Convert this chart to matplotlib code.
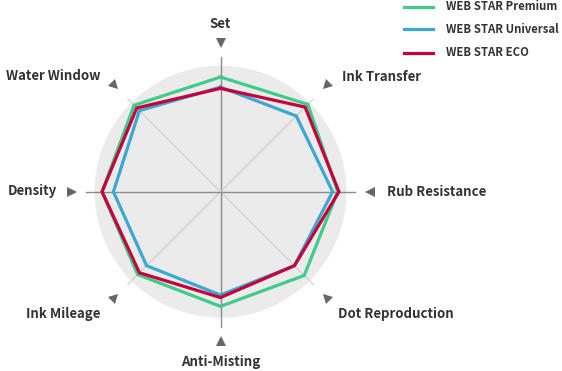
import numpy as np
import matplotlib
matplotlib.use("Agg")
import matplotlib.pyplot as plt
from matplotlib.markers import MarkerStyle
from matplotlib.transforms import Affine2D
from matplotlib.patches import Circle

plt.rcParams['font.family'] = ['Noto Sans CJK KR', 'DejaVu Sans']

# axes clockwise from the top
categories = ["Set", "Ink Transfer", "Rub Resistance", "Dot Reproduction",
              "Anti-Misting", "Ink Mileage", "Density", "Water Window"]
series_names = ["WEB STAR Premium", "WEB STAR Universal", "WEB STAR ECO"]
premium = [9.1, 9.8, 9.3, 9.4, 9.1, 9.3, 9.4, 9.7]
universal = [8.3, 8.5, 8.9, 8.3, 8.2, 8.3, 8.5, 9.1]
eco = [8.2, 9.5, 9.4, 8.3, 8.4, 9.1, 9.4, 9.4]
max_value = 10

colors = ["#3fcc8b", "#3ba8d0", "#c7003c"]

W, H = 562, 371
cx, cy = 220.5, 191.7     # centre of the chart in pixels
unit = 12.6               # pixels per value unit

fig = plt.figure(figsize=(W / 100, H / 100), dpi=100)
ax = fig.add_axes([0, 0, 1, 1])
ax.set_xlim(-cx / unit, (W - cx) / unit)
ax.set_ylim(-(H - cy) / unit, cy / unit)
ax.axis("off")

n = len(categories)
angles = np.pi / 2 - np.arange(n) * 2 * np.pi / n


def to_xy(values):
    v = np.asarray(values, dtype=float)
    x = v * np.cos(angles)
    y = v * np.sin(angles)
    return np.append(x, x[0]), np.append(y, y[0])


# background disc and spokes
ax.add_patch(Circle((0, 0), max_value, facecolor="#ebebeb", edgecolor="none", zorder=0))
for i, a in enumerate(angles):
    if i % 2 == 0:
        r, c, lw = 10.7, "#8c8c8c", 1.0
    else:
        r, c, lw = 10.4, "#cdcdcd", 0.8
    ax.plot([0, r * np.cos(a)], [0, r * np.sin(a)], color=c, lw=lw, zorder=1)

# series, red on top
for vals, col, z in zip([premium, universal, eco], colors, [2, 3, 4]):
    x, y = to_xy(vals)
    ax.plot(x, y, color=col, lw=2.3, zorder=z, solid_joinstyle="miter")

# pointer triangles
tri_r = 149 / unit
for a in angles:
    m = MarkerStyle("^", transform=Affine2D().rotate_deg(np.degrees(a) + 90))
    ax.plot(tri_r * np.cos(a), tri_r * np.sin(a), marker=m, markersize=7,
            color="#666666", markeredgewidth=0, zorder=5)

# category labels (pixel positions, alignment)
label_pos = [(220.5, 24, "center"), (341.7, 77, "left"), (387, 191.7, "left"),
             (337.7, 314, "left"), (220.5, 362, "center"), (100, 314, "right"),
             (57.3, 191, "right"), (100, 76, "right")]
for name, (px, py, ha) in zip(categories, label_pos):
    fig.text(px / W, 1 - py / H, name, ha=ha, va="center", fontsize=9.5,
             fontweight="bold", color="#333333")

# legend
leg_y = [6.5, 29.3, 52.5]
for name, col, ly in zip(series_names, colors, leg_y):
    fig.add_artist(plt.Line2D([404 / W, 433 / W], [1 - ly / H, 1 - ly / H],
                              color=col, lw=2.3))
    fig.text(446.5 / W, 1 - ly / H, name, ha="left", va="center", fontsize=8.2,
             fontweight="bold", color="#333333")

fig.savefig("out.png", dpi=100)
